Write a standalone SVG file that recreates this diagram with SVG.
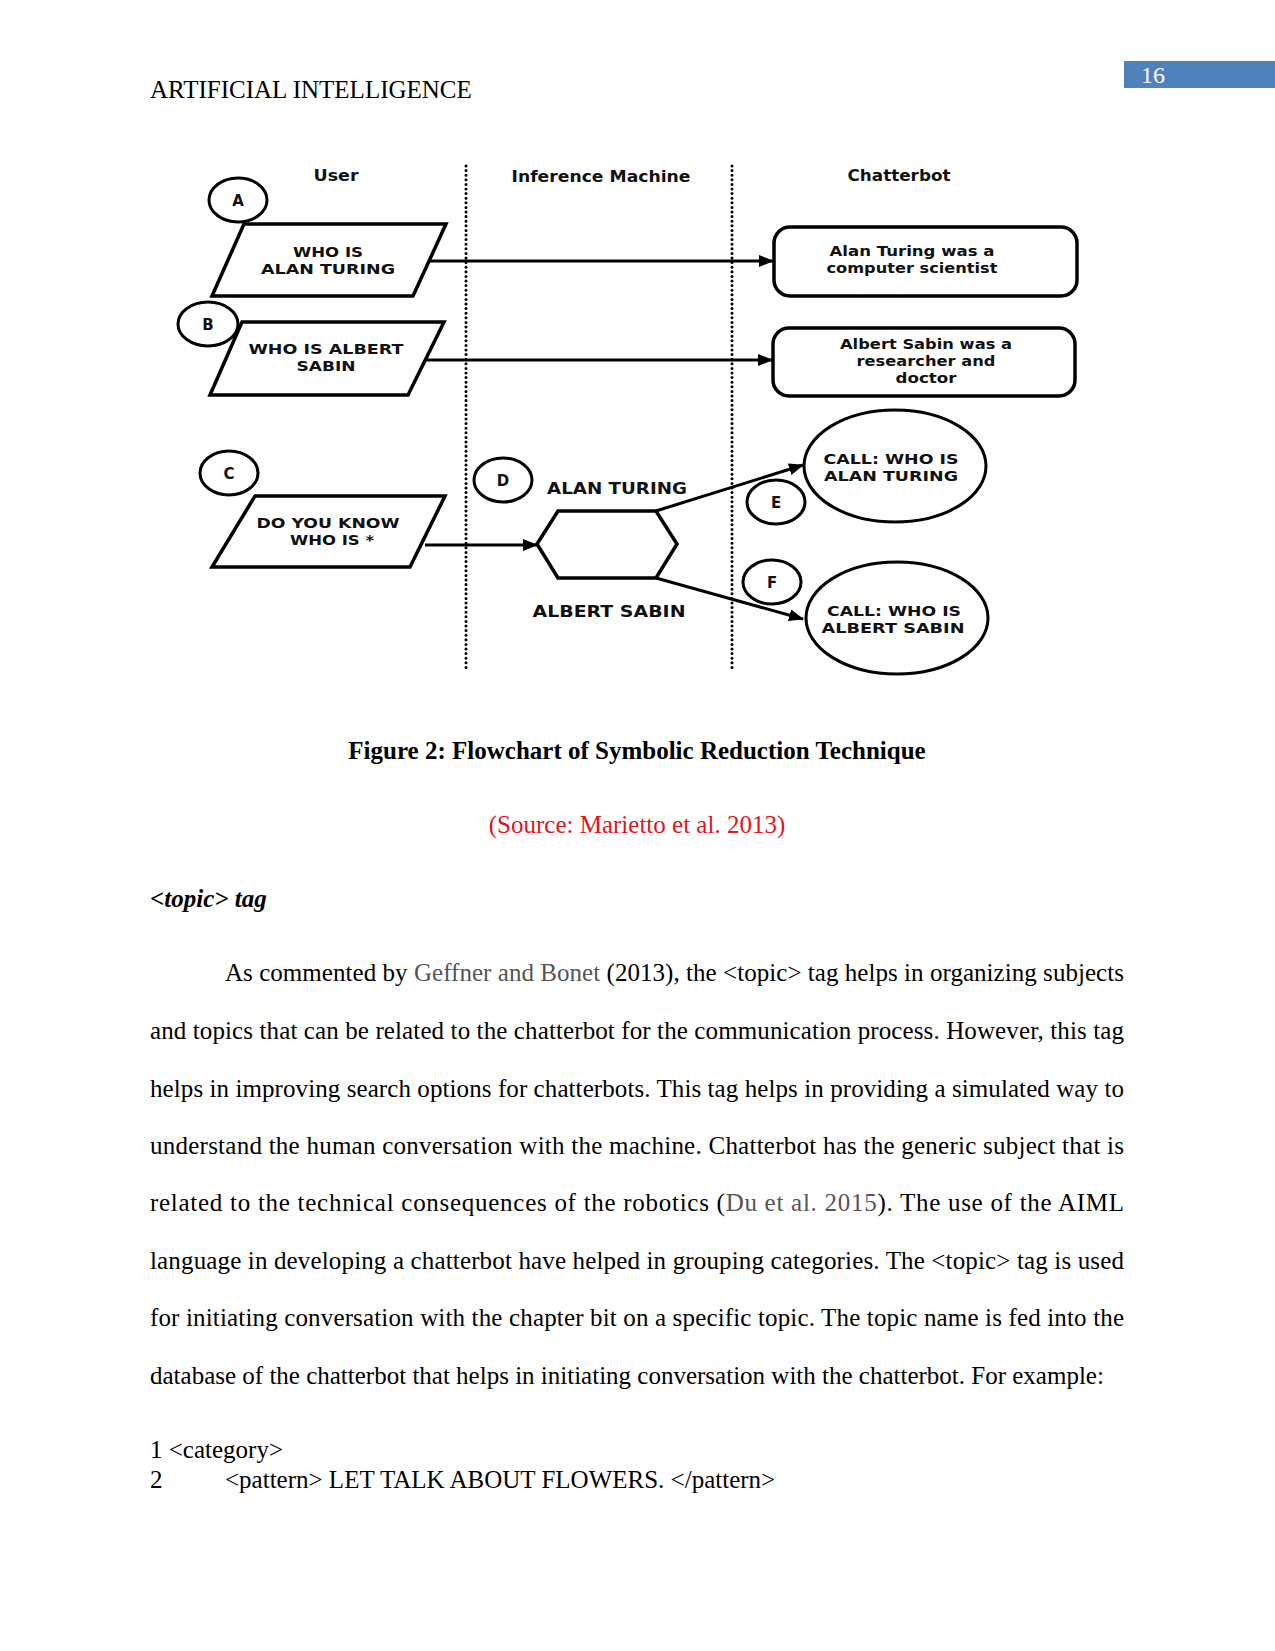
<svg xmlns="http://www.w3.org/2000/svg" width="1275" height="1651" viewBox="0 0 1275 1651">
<style>
.serif{font-family:"Liberation Serif","Times New Roman",serif;font-size:25px;fill:#000}
.gray{fill:#555}
.lbl{font-family:"DejaVu Sans","Liberation Sans",sans-serif;font-weight:bold;font-size:16.5px;fill:#111;text-anchor:middle}
.in{font-size:14.5px}
.let{font-family:"DejaVu Sans","Liberation Sans",sans-serif;font-weight:bold;font-size:15px;fill:#111;text-anchor:middle}
.shape{fill:#fff;stroke:#000;stroke-width:3.5;stroke-linejoin:miter}
.circ{fill:#fff;stroke:#000;stroke-width:3}
.conn{stroke:#000;stroke-width:3;fill:none}
.dots{stroke:#000;stroke-width:3;stroke-linecap:round;stroke-dasharray:0 4.6;fill:none}
</style>
<defs>
<marker id="arr" markerUnits="userSpaceOnUse" markerWidth="16" markerHeight="12" refX="14" refY="6" orient="auto">
<path d="M0,0 L15,6 L0,12 Z" fill="#000"/>
</marker>
</defs>
<rect width="1275" height="1651" fill="#fff"/>

<!-- header -->
<rect x="1124" y="61" width="151" height="27" fill="#4f81bd"/>
<text x="1141" y="83" class="serif" style="fill:#fff;font-size:24px">16</text>
<text x="150" y="98" class="serif">ARTIFICIAL INTELLIGENCE</text>

<!-- lanes -->
<g id="lanes">
<line class="dots" x1="466" y1="166" x2="466" y2="671"/>
<line class="dots" x1="732" y1="166" x2="732" y2="671"/>
<text class="lbl" x="336" y="181" textLength="45" lengthAdjust="spacingAndGlyphs">User</text>
<text class="lbl" x="601" y="182" textLength="179" lengthAdjust="spacingAndGlyphs">Inference Machine</text>
<text class="lbl" x="899" y="181" textLength="103" lengthAdjust="spacingAndGlyphs">Chatterbot</text>
</g>

<!-- connectors -->
<g id="connectors">
<line class="conn" x1="430" y1="261" x2="773" y2="261" marker-end="url(#arr)"/>
<line class="conn" x1="425" y1="360" x2="772" y2="360" marker-end="url(#arr)"/>
<line class="conn" x1="425" y1="545" x2="537" y2="545" marker-end="url(#arr)"/>
<line class="conn" x1="656" y1="511" x2="803" y2="465" marker-end="url(#arr)"/>
<line class="conn" x1="656" y1="578" x2="803" y2="619" marker-end="url(#arr)"/>
</g>

<g id="labelA"><ellipse class="circ" cx="238" cy="200" rx="29" ry="22"/><text class="let" x="238" y="206">A</text></g>
<g id="inputA">
<polygon class="shape" points="244,224 446,224 413,296 212,296"/>
<text class="lbl in" x="328" y="257" textLength="70" lengthAdjust="spacingAndGlyphs">WHO IS</text>
<text class="lbl in" x="328" y="274" textLength="134" lengthAdjust="spacingAndGlyphs">ALAN TURING</text>
</g>

<g id="labelB"><ellipse class="circ" cx="208" cy="324" rx="30" ry="22"/><text class="let" x="208" y="330">B</text></g>
<g id="inputB">
<polygon class="shape" points="242,322 444,322 408,395 210,395"/>
<text class="lbl in" x="326" y="354" textLength="155" lengthAdjust="spacingAndGlyphs">WHO IS ALBERT</text>
<text class="lbl in" x="326" y="371" textLength="59" lengthAdjust="spacingAndGlyphs">SABIN</text>
</g>

<g id="answerA">
<rect class="shape" x="774" y="227" width="303" height="69" rx="16"/>
<text class="lbl in" x="912" y="256" textLength="165" lengthAdjust="spacingAndGlyphs">Alan Turing was a</text>
<text class="lbl in" x="912" y="273" textLength="171" lengthAdjust="spacingAndGlyphs">computer scientist</text>
</g>

<g id="answerB">
<rect class="shape" x="773" y="328" width="302" height="68" rx="16"/>
<text class="lbl in" x="926" y="349" textLength="172" lengthAdjust="spacingAndGlyphs">Albert Sabin was a</text>
<text class="lbl in" x="926" y="366" textLength="139" lengthAdjust="spacingAndGlyphs">researcher and</text>
<text class="lbl in" x="926" y="383" textLength="61" lengthAdjust="spacingAndGlyphs">doctor</text>
</g>

<g id="labelC"><ellipse class="circ" cx="229" cy="473" rx="29" ry="22"/><text class="let" x="229" y="479">C</text></g>
<g id="inputC">
<polygon class="shape" points="255,496 445,496 410,567 212,567"/>
<text class="lbl in" x="328" y="528" textLength="143" lengthAdjust="spacingAndGlyphs">DO YOU KNOW</text>
<text class="lbl in" x="332" y="545" textLength="84" lengthAdjust="spacingAndGlyphs">WHO IS *</text>
</g>

<g id="labelD"><ellipse class="circ" cx="503" cy="480" rx="29" ry="22"/><text class="let" x="503" y="486">D</text></g>
<g id="reduce">
<polygon class="shape" points="537,544 558,511 656,511 677,544 656,578 558,578"/>
<text class="lbl" x="617" y="494" textLength="140" lengthAdjust="spacingAndGlyphs">ALAN TURING</text>
<text class="lbl" x="609" y="617" textLength="153" lengthAdjust="spacingAndGlyphs">ALBERT SABIN</text>
</g>

<g id="labelE"><ellipse class="circ" cx="776" cy="502" rx="29" ry="22"/><text class="let" x="776" y="508">E</text></g>
<g id="labelF"><ellipse class="circ" cx="772" cy="582" rx="29" ry="22"/><text class="let" x="772" y="588">F</text></g>

<g id="callA">
<ellipse class="circ" cx="895" cy="466" rx="91" ry="56"/>
<text class="lbl in" x="891" y="464" textLength="135" lengthAdjust="spacingAndGlyphs">CALL: WHO IS</text>
<text class="lbl in" x="891" y="481" textLength="134" lengthAdjust="spacingAndGlyphs">ALAN TURING</text>
</g>

<g id="callB">
<ellipse class="circ" cx="897" cy="618" rx="91" ry="56"/>
<text class="lbl in" x="894" y="616" textLength="134" lengthAdjust="spacingAndGlyphs">CALL: WHO IS</text>
<text class="lbl in" x="893" y="633" textLength="143" lengthAdjust="spacingAndGlyphs">ALBERT SABIN</text>
</g>

<!-- caption -->
<text class="serif" x="637" y="759" text-anchor="middle" font-weight="bold">Figure 2: Flowchart of Symbolic Reduction Technique</text>
<text class="serif" x="637" y="833" text-anchor="middle" style="fill:#e3141b">(Source: Marietto et al. 2013)</text>
<text class="serif" x="150" y="907" font-weight="bold" font-style="italic">&lt;topic&gt; tag</text>

<!-- body -->
<text class="serif" x="225" y="981" textLength="899" lengthAdjust="spacing">As commented by <tspan class="gray">Geffner and Bonet</tspan> (2013), the &lt;topic&gt; tag helps in organizing subjects</text>
<text class="serif" x="150" y="1039" textLength="974" lengthAdjust="spacing">and topics that can be related to the chatterbot for the communication process. However, this tag</text>
<text class="serif" x="150" y="1097" textLength="974" lengthAdjust="spacing">helps in improving search options for chatterbots. This tag helps in providing a simulated way to</text>
<text class="serif" x="150" y="1154" textLength="974" lengthAdjust="spacing">understand the human conversation with the machine. Chatterbot has the generic subject that is</text>
<text class="serif" x="150" y="1211" textLength="974" lengthAdjust="spacing">related to the technical consequences of the robotics (<tspan class="gray">Du et al. 2015</tspan>). The use of the AIML</text>
<text class="serif" x="150" y="1269" textLength="974" lengthAdjust="spacing">language in developing a chatterbot have helped in grouping categories. The &lt;topic&gt; tag is used</text>
<text class="serif" x="150" y="1326" textLength="974" lengthAdjust="spacing">for initiating conversation with the chapter bit on a specific topic. The topic name is fed into the</text>
<text class="serif" x="150" y="1384">database of the chatterbot that helps in initiating conversation with the chatterbot. For example:</text>

<text class="serif" x="150" y="1458">1 &lt;category&gt;</text>
<text class="serif" x="150" y="1488">2</text>
<text class="serif" x="225" y="1488">&lt;pattern&gt; LET TALK ABOUT FLOWERS. &lt;/pattern&gt;</text>
</svg>
